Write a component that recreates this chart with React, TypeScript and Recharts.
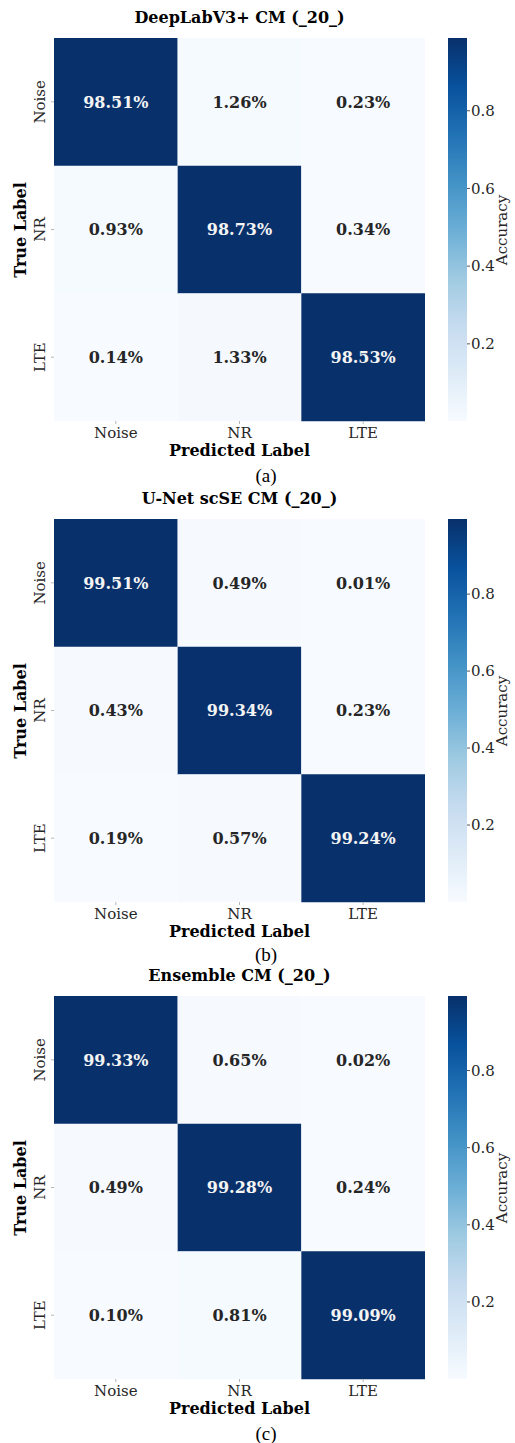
import React from 'react';
import { BarChart, Bar, XAxis, YAxis, Cell, LabelList } from 'recharts';

// Class names used for both axes of every confusion matrix
const CLASSES = ['Noise', 'NR', 'LTE'];

// Row-normalised confusion matrices in percent (rows = true, cols = predicted)
const DEEPLAB_CM = [
  [98.51, 1.26, 0.23],
  [0.93, 98.73, 0.34],
  [0.14, 1.33, 98.53],
];
const UNET_SCSE_CM = [
  [99.51, 0.49, 0.01],
  [0.43, 99.34, 0.23],
  [0.19, 0.57, 99.24],
];
const ENSEMBLE_CM = [
  [99.33, 0.65, 0.02],
  [0.49, 99.28, 0.24],
  [0.1, 0.81, 99.09],
];

const TITLES = ['DeepLabV3+ CM (_20_)', 'U-Net scSE CM (_20_)', 'Ensemble CM (_20_)'];
const CAPTIONS = ['(a)', '(b)', '(c)'];
const ACCURACY_TICKS = [0.2, 0.4, 0.6, 0.8];

const SERIF = '"DejaVu Serif", serif';
const TEXT_DARK = '#262626';

// matplotlib "Blues" colormap stops
const BLUES = ['#f7fbff', '#deebf7', '#c6dbef', '#9ecae1', '#6baed6', '#4292c6', '#2171b5', '#08519c', '#08306b'];

const hexToRgb = (h: string) => [1, 3, 5].map((i) => parseInt(h.slice(i, i + 2), 16));

function blues(t: number): number[] {
  const c = Math.max(0, Math.min(1, t)) * (BLUES.length - 1);
  const i = Math.min(Math.floor(c), BLUES.length - 2);
  const f = c - i;
  const a = hexToRgb(BLUES[i]);
  const b = hexToRgb(BLUES[i + 1]);
  return a.map((v, k) => Math.round(v + (b[k] - v) * f));
}

const rgbStr = (c: number[]) => `rgb(${c[0]},${c[1]},${c[2]})`;

function luminance(c: number[]) {
  const lin = c.map((v) => {
    const s = v / 255;
    return s <= 0.03928 ? s / 12.92 : Math.pow((s + 0.055) / 1.055, 2.4);
  });
  return 0.2126 * lin[0] + 0.7152 * lin[1] + 0.0722 * lin[2];
}

const PANEL_TOP = [0, 481, 958];
const PLOT_LEFT = 54;
const PLOT_RIGHT = 425;
const PLOT_TOP = 38;
const PLOT_BOTTOM = 421;

const RowTick = (props: any) => {
  const { x, y, payload } = props;
  const cx = x - 9;
  return (
    <text
      x={cx}
      y={y}
      transform={`rotate(-90 ${cx} ${y})`}
      textAnchor="middle"
      dominantBaseline="central"
      fontFamily={SERIF}
      fontSize={15}
      fill={TEXT_DARK}
    >
      {payload.value}
    </text>
  );
};

function Panel({ index, matrix }: { index: number; matrix: number[][] }) {
  const flat = matrix.flat();
  const vmin = Math.min(...flat) / 100;
  const vmax = Math.max(...flat) / 100;
  const norm = (pct: number) => (pct / 100 - vmin) / (vmax - vmin);

  // one stacked segment of unit length per predicted class
  const rows = CLASSES.map((name, r) => {
    const row: any = { row: name };
    CLASSES.forEach((_, c) => {
      row[`s${c}`] = 1;
      row[`v${c}`] = matrix[r][c];
    });
    return row;
  });

  const gradId = `blues-cb-${index}`;
  const chartH = 470;

  const renderValue = (props: any) => {
    const { x, y, width, height, value } = props;
    const col = blues(norm(value));
    const fill = luminance(col) > 0.408 ? TEXT_DARK : '#f4f4f4';
    return (
      <text
        x={x + width / 2}
        y={y + height / 2}
        textAnchor="middle"
        dominantBaseline="central"
        fontFamily={SERIF}
        fontWeight="bold"
        fontSize={16}
        fill={fill}
      >
        {`${Number(value).toFixed(2)}%`}
      </text>
    );
  };

  return (
    <div style={{ position: 'absolute', left: 0, top: PANEL_TOP[index], width: 515, height: chartH }}>
      <div
        style={{
          position: 'absolute',
          left: (PLOT_LEFT + PLOT_RIGHT) / 2,
          top: 18,
          transform: 'translate(-50%, -50%)',
          fontFamily: SERIF,
          fontWeight: 'bold',
          fontSize: 16,
          lineHeight: 1,
          whiteSpace: 'nowrap',
          color: '#000',
        }}
      >
        {TITLES[index]}
      </div>

      <div style={{ position: 'absolute', left: 0, top: 0 }}>
        <BarChart
          width={440}
          height={chartH}
          data={rows}
          layout="vertical"
          barCategoryGap={0}
          margin={{ top: PLOT_TOP, bottom: chartH - PLOT_BOTTOM - 30, left: PLOT_LEFT - 30, right: 440 - PLOT_RIGHT }}
        >
          <XAxis
            type="number"
            domain={[0, 3]}
            ticks={[0.5, 1.5, 2.5]}
            interval={0}
            tickFormatter={(t: number) => CLASSES[Math.floor(t)]}
            axisLine={false}
            tickLine={{ stroke: '#b5b5b5' }}
            tickSize={3}
            tickMargin={3}
            height={30}
            tick={{ fontFamily: SERIF, fontSize: 15, fill: TEXT_DARK }}
          />
          <YAxis
            type="category"
            dataKey="row"
            width={30}
            axisLine={false}
            tickLine={{ stroke: '#b5b5b5' }}
            tickSize={3}
            tick={<RowTick />}
          />
          {CLASSES.map((_, c) => (
            <Bar key={c} dataKey={`s${c}`} stackId="cm" isAnimationActive={false}>
              {rows.map((row, r) => (
                <Cell key={r} fill={rgbStr(blues(norm(row[`v${c}`])))} />
              ))}
              <LabelList dataKey={`v${c}`} content={renderValue} />
            </Bar>
          ))}
        </BarChart>
      </div>

      <div style={{ position: 'absolute', left: 440, top: 0 }}>
        <BarChart
          width={75}
          height={chartH}
          data={[{ k: 'cb', range: [vmin, vmax] }]}
          barCategoryGap={0}
          margin={{ top: PLOT_TOP, bottom: chartH - PLOT_BOTTOM, left: 8, right: 0 }}
        >
          <defs>
            <linearGradient id={gradId} x1="0" y1="1" x2="0" y2="0">
              {BLUES.map((c, i) => (
                <stop key={i} offset={`${(i / (BLUES.length - 1)) * 100}%`} stopColor={c} />
              ))}
            </linearGradient>
          </defs>
          <XAxis dataKey="k" type="category" hide />
          <YAxis
            orientation="right"
            type="number"
            domain={[vmin, vmax]}
            allowDataOverflow
            ticks={ACCURACY_TICKS}
            interval={0}
            tickFormatter={(t: number) => t.toFixed(1)}
            axisLine={false}
            tickLine={{ stroke: '#555' }}
            tickSize={3}
            tickMargin={1}
            width={48}
            tick={{ fontFamily: SERIF, fontSize: 15, fill: TEXT_DARK }}
          />
          <Bar dataKey="range" fill={`url(#${gradId})`} isAnimationActive={false} />
        </BarChart>
      </div>

      <div
        style={{
          position: 'absolute',
          left: 502,
          top: (PLOT_TOP + PLOT_BOTTOM) / 2,
          transform: 'translate(-50%, -50%) rotate(-90deg)',
          fontFamily: SERIF,
          fontSize: 15,
          lineHeight: 1,
          whiteSpace: 'nowrap',
          color: TEXT_DARK,
        }}
      >
        Accuracy
      </div>

      <div
        style={{
          position: 'absolute',
          left: 21,
          top: (PLOT_TOP + PLOT_BOTTOM) / 2,
          transform: 'translate(-50%, -50%) rotate(-90deg)',
          fontFamily: SERIF,
          fontWeight: 'bold',
          fontSize: 16,
          lineHeight: 1,
          whiteSpace: 'nowrap',
          color: '#000',
        }}
      >
        True Label
      </div>

      <div
        style={{
          position: 'absolute',
          left: (PLOT_LEFT + PLOT_RIGHT) / 2,
          top: 451,
          transform: 'translate(-50%, -50%)',
          fontFamily: SERIF,
          fontWeight: 'bold',
          fontSize: 16,
          lineHeight: 1,
          whiteSpace: 'nowrap',
          color: '#000',
        }}
      >
        Predicted Label
      </div>

      <div
        style={{
          position: 'absolute',
          left: 266,
          top: index === 1 ? 473 : 475,
          transform: 'translate(-50%, -50%)',
          fontFamily: '"Liberation Serif", "Times New Roman", serif',
          fontSize: 19,
          lineHeight: 1,
          whiteSpace: 'nowrap',
          color: '#000',
        }}
      >
        {CAPTIONS[index]}
      </div>
    </div>
  );
}

export default function App() {
  return (
    <div style={{ position: 'absolute', left: 0, top: 0, width: 515, height: 1443, background: '#fff', overflow: 'hidden' }}>
      <Panel index={0} matrix={DEEPLAB_CM} />
      <Panel index={1} matrix={UNET_SCSE_CM} />
      <Panel index={2} matrix={ENSEMBLE_CM} />
    </div>
  );
}
